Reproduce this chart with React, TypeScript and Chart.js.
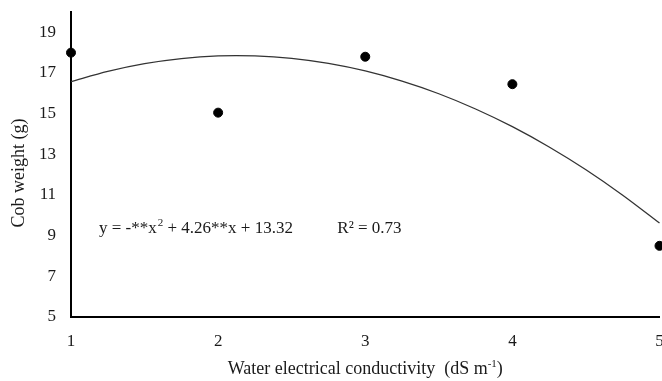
import React, { useEffect, useRef } from "react";
import { Chart, registerables } from "chart.js";

Chart.register(...registerables);

// Observed points: water electrical conductivity (dS m-1) vs cob weight (g)
const ecLevels = [1, 2, 3, 4, 5];
const cobWeight = [18.0, 15.05, 17.8, 16.45, 8.5];

// Fitted curve
const curveX = [1, 1.25, 1.5, 1.75, 2, 2.25, 2.5, 2.75, 3, 3.25, 3.5, 3.75, 4, 4.25, 4.5, 4.75, 5];
const curveY = [16.58, 17.08, 17.46, 17.71, 17.84, 17.84, 17.72, 17.47, 17.1, 16.6, 15.98, 15.23, 14.36, 13.36, 12.24, 10.99, 9.62];

const yTicks = [5, 7, 9, 11, 13, 15, 17, 19];
const xTicks = [1, 2, 3, 4, 5];

const yTitle = "Cob weight (g)";
const xTitleMain = "Water electrical conductivity  (dS m";
const xTitleSup = "-1";
const xTitleEnd = ")";
const eqPart1 = "y = -**x";
const eqSup = "2";
const eqPart2 = " + 4.26**x + 13.32";
const r2Text = "R\u00B2 = 0.73";

const FONT = "'Liberation Serif', 'Times New Roman', serif";

const textPlugin = {
  id: "textPlugin",
  afterDraw(chart: any) {
    const ctx = chart.ctx as CanvasRenderingContext2D;
    const area = chart.chartArea;
    const xs = chart.scales.x;
    const ys = chart.scales.y;
    ctx.save();
    ctx.fillStyle = "#1a1a1a";

    // y title
    ctx.save();
    ctx.font = `18px ${FONT}`;
    ctx.translate(19, 173);
    ctx.rotate(-Math.PI / 2);
    ctx.textAlign = "center";
    ctx.textBaseline = "middle";
    ctx.fillText(yTitle, 0, 0);
    ctx.restore();

    // x title with superscript
    ctx.textBaseline = "alphabetic";
    ctx.textAlign = "left";
    ctx.font = `18px ${FONT}`;
    const w1 = ctx.measureText(xTitleMain).width;
    ctx.font = `11px ${FONT}`;
    const w2 = ctx.measureText(xTitleSup).width;
    ctx.font = `18px ${FONT}`;
    const w3 = ctx.measureText(xTitleEnd).width;
    const total = w1 + w2 + w3;
    const cx = (area.left + area.right) / 2;
    const x0 = cx - total / 2;
    const base = 374;
    ctx.fillText(xTitleMain, x0, base);
    ctx.font = `11px ${FONT}`;
    ctx.fillText(xTitleSup, x0 + w1, base - 7);
    ctx.font = `18px ${FONT}`;
    ctx.fillText(xTitleEnd, x0 + w1 + w2, base);

    // equation
    const ex = xs.getPixelForValue(1.19);
    const ey = ys.getPixelForValue(9.13);
    ctx.font = `17px ${FONT}`;
    const e1 = ctx.measureText(eqPart1).width;
    ctx.fillText(eqPart1, ex, ey);
    ctx.font = `11px ${FONT}`;
    const e2 = ctx.measureText(eqSup).width;
    ctx.fillText(eqSup, ex + e1 + 1, ey - 7);
    ctx.font = `17px ${FONT}`;
    ctx.fillText(eqPart2, ex + e1 + e2 + 1, ey);
    ctx.fillText(r2Text, xs.getPixelForValue(2.81), ey);
    ctx.restore();
  },
};

export default function App() {
  const ref = useRef<HTMLCanvasElement | null>(null);
  useEffect(() => {
    if (!ref.current) return;
    const chart = new Chart(ref.current, {
      type: "scatter",
      data: {
        datasets: [
          {
            data: ecLevels.map((x, i) => ({ x, y: cobWeight[i] })),
            backgroundColor: "#000",
            borderColor: "#000",
            pointRadius: 4.5,
            pointHoverRadius: 4.5,
            order: 0,
          },
          {
            data: curveX.map((x, i) => ({ x, y: curveY[i] })),
            showLine: true,
            borderColor: "#333",
            borderWidth: 1.3,
            pointRadius: 0,
            tension: 0.3,
            order: 1,
          } as any,
        ],
      },
      options: {
        responsive: false,
        animation: false,
        clip: false as any,
        layout: { padding: { top: 12, right: 0, left: 0, bottom: 0 } },
        plugins: { legend: { display: false }, tooltip: { enabled: false } },
        scales: {
          x: {
            type: "linear",
            min: 1,
            max: 5,
            grid: { display: false, drawTicks: false },
            border: { display: true, color: "#000", width: 2 },
            afterBuildTicks: (s: any) => {
              s.ticks = xTicks.map((v) => ({ value: v }));
            },
            afterFit: (s: any) => {
              s.height = 64;
              s.paddingLeft = 0;
              s.paddingRight = 0;
            },
            ticks: {
              padding: 14,
              color: "#1a1a1a",
              font: { family: FONT, size: 17 },
              maxRotation: 0,
            },
          },
          y: {
            type: "linear",
            min: 5,
            max: 20,
            grid: { display: false, drawTicks: false },
            border: { display: true, color: "#000", width: 2 },
            afterBuildTicks: (s: any) => {
              s.ticks = yTicks.map((v) => ({ value: v }));
            },
            afterFit: (s: any) => {
              s.width = 71;
              s.paddingTop = 0;
              s.paddingBottom = 0;
            },
            ticks: {
              padding: 15,
              color: "#1a1a1a",
              font: { family: FONT, size: 17 },
            },
          },
        },
      },
      plugins: [textPlugin],
    });
    return () => chart.destroy();
  }, []);
  return (
    <div
      style={{
        position: "absolute",
        left: 0,
        top: 0,
        width: 662,
        height: 381,
        overflow: "hidden",
        background: "#fff",
      }}
    >
      <canvas ref={ref} width={665} height={381} style={{ display: "block" }} />
    </div>
  );
}
